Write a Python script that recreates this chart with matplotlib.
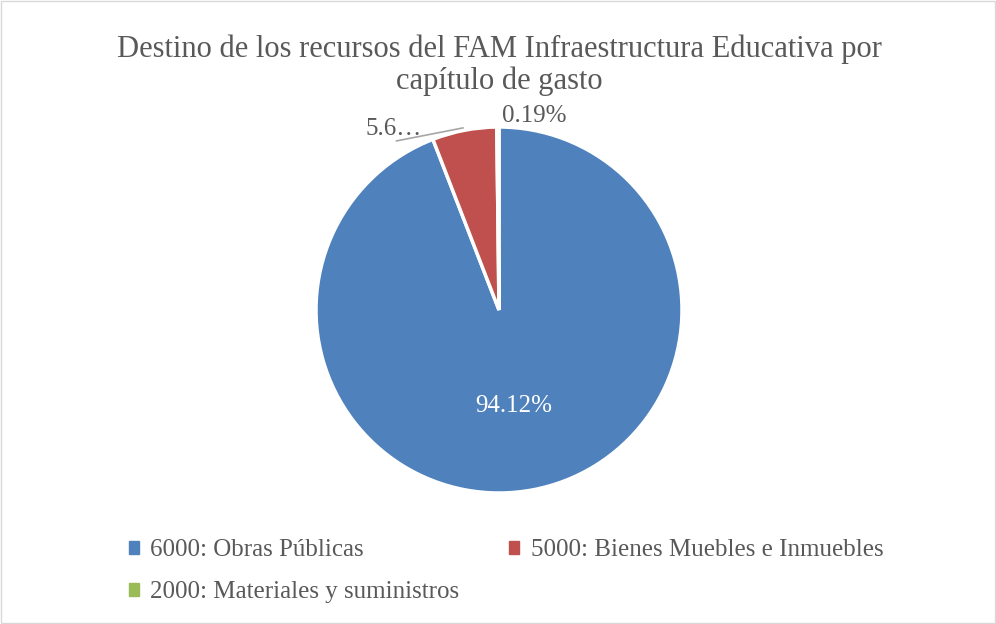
import matplotlib.pyplot as plt
from matplotlib.patches import Rectangle

categories = ["6000: Obras Públicas", "5000: Bienes Muebles e Inmuebles",
              "2000: Materiales y suministros"]
values = [94.12, 5.69, 0.19]
labels = ["94.12%", "5.6…", "0.19%"]
colors = ["#4F81BD", "#C0504D", "#9BBB59"]

plt.rcParams["font.family"] = ["Liberation Serif", "DejaVu Serif"]
text_color = "#595959"

fig = plt.figure(figsize=(9.96, 6.24), dpi=100)
fig.patches.append(Rectangle((0.001, 0.001), 0.998, 0.997, transform=fig.transFigure,
                             fill=False, edgecolor="#D9D9D9", linewidth=1))

# pie centred at (499, 310) px, radius 183 px
ax = fig.add_axes([(499 - 183) / 996, (624 - 310 - 183) / 624, 366 / 996, 366 / 624])
wedges, _ = ax.pie(values, colors=colors, startangle=90, counterclock=False,
                   radius=1, wedgeprops=dict(edgecolor="white", linewidth=2.5))
ax.set_xlim(-1, 1)
ax.set_ylim(-1, 1)
ax.set_aspect("equal")
ax.axis("off")

# data labels
ax.text(0.08, -0.525, labels[0], ha="center", va="center", fontsize=18, color="white")
ax.text(-0.575, 0.99, labels[1], ha="center", va="center", fontsize=18, color=text_color)
ax.plot([-0.56, -0.197], [0.924, 0.995], color="#A6A6A6", linewidth=1.2,
        clip_on=False)
ax.text(0.19, 1.06, labels[2], ha="center", va="center", fontsize=18, color=text_color)

fig.text(0.501, 0.895, "Destino de los recursos del FAM Infraestructura Educativa por\ncapítulo de gasto",
         ha="center", va="center", fontsize=22, color=text_color, linespacing=1.1)

# legend (filled column-wise, so reorder to read row-wise)
order = [0, 2, 1]
handles = [Rectangle((0, 0), 1, 1, color=colors[i]) for i in order]
fig.legend(handles, [categories[i] for i in order], loc="upper left",
           bbox_to_anchor=(0.107, 0.172), ncol=2, frameon=False, fontsize=18,
           labelcolor=text_color, handlelength=0.4, handleheight=0.4,
           handletextpad=0.45, columnspacing=2.0, labelspacing=0.8)
plt.savefig("out.png", dpi=100)
